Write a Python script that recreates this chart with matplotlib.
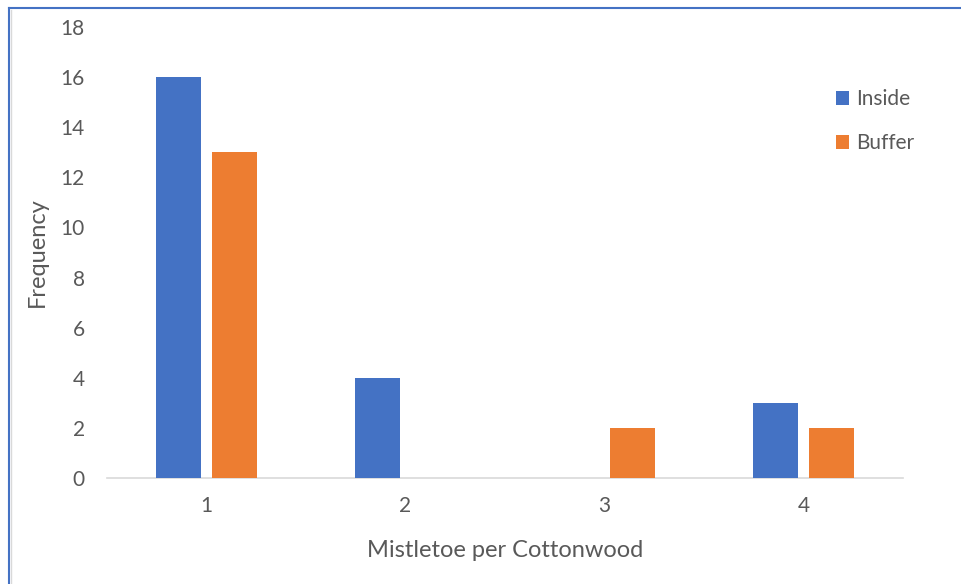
import numpy as np
import matplotlib.pyplot as plt
from matplotlib.lines import Line2D

categories = [1, 2, 3, 4]
inside = [16, 4, 0, 3]
buffer = [13, 0, 2, 2]

plt.rcParams['font.family'] = ['Lato', 'DejaVu Sans']
txt = '#595959'

fig = plt.figure(figsize=(9.61, 5.84), dpi=100)
ax = fig.add_axes([107 / 961, 106 / 584, 796 / 961, 451 / 584])

x = np.arange(len(categories)) + 1
w = 0.226
ax.bar(x - 0.141, inside, w, color='#4472C4', label='Inside', zorder=3)
ax.bar(x + 0.141, buffer, w, color='#ED7D31', label='Buffer', zorder=3)

ax.set_xlim(0.5, 4.5)
ax.set_ylim(0, 18)
ax.set_yticks(range(0, 19, 2))
ax.set_xticks(x)
ax.set_xticklabels([str(c) for c in categories])
ax.tick_params(axis='both', length=0, labelsize=15, colors=txt)
ax.tick_params(axis='y', pad=16)
ax.tick_params(axis='x', pad=13)
for s in ['top', 'right', 'left']:
    ax.spines[s].set_visible(False)
ax.spines['bottom'].set_color('#D9D9D9')
ax.spines['bottom'].set_linewidth(1.2)

ax.set_xlabel('Mistletoe per Cottonwood', fontsize=17, color=txt, labelpad=17)
ax.set_ylabel('Frequency', fontsize=17, color=txt, labelpad=9)

ax.legend(loc='upper left', bbox_to_anchor=(0.905, 0.88), frameon=False,
          fontsize=15, labelcolor=txt, handlelength=0.65, handleheight=0.65,
          handletextpad=0.35, labelspacing=1.15, borderaxespad=0)

# outer blue frame (cropped screenshot)
W, H = 961, 584
fig.add_artist(Line2D([9 / W, 9 / W], [0, 1 - 8 / H], color='#4472C4', lw=1.5, transform=fig.transFigure))
fig.add_artist(Line2D([9 / W, 1], [1 - 8 / H, 1 - 8 / H], color='#4472C4', lw=1.5, transform=fig.transFigure))
fig.add_artist(Line2D([11 / W, 11 / W], [0, 1 - 10 / H], color='#D9D9D9', lw=1.0, transform=fig.transFigure))

fig.savefig('out.png', dpi=100)
